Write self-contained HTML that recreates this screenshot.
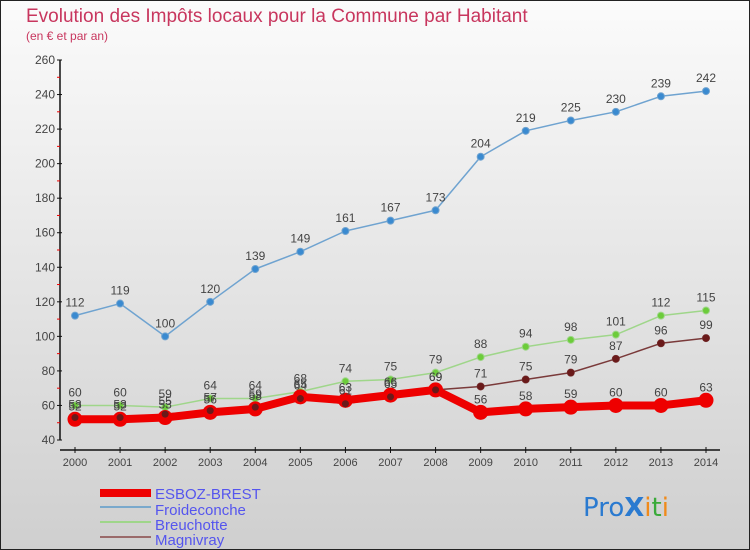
<!DOCTYPE html>
<html><head><meta charset="utf-8"><style>
body{margin:0;width:750px;height:550px;overflow:hidden;font-family:"Liberation Sans",sans-serif}
svg{display:block}
</style></head><body>
<svg id="chart" width="750" height="550" xmlns="http://www.w3.org/2000/svg">
<defs><linearGradient id="bg" x1="0" y1="0" x2="0" y2="1"><stop offset="0" stop-color="#fbfbfb"/><stop offset="1" stop-color="#cfcfcf"/></linearGradient></defs>
<rect x="0.5" y="0.5" width="749" height="549" fill="url(#bg)" stroke="#222"/>
<text x="26" y="22" font-size="19" fill="#c8365e" style="font-weight:300">Evolution des Impôts locaux pour la Commune par Habitant</text>
<text x="26" y="40" font-size="12" fill="#c8365e">(en € et par an)</text>
<g id="axes"></g><g id="series"></g><g id="labels"></g>
<g>
<rect x="100" y="489" width="51" height="8" fill="#e00"/>
<text x="155" y="499" font-size="15" fill="#5555ee">ESBOZ-BREST</text>
<line x1="100" y1="507" x2="151" y2="507" stroke="#7aa9cc" stroke-width="2"/>
<text x="155" y="515" font-size="15" fill="#5555ee">Froideconche</text>
<line x1="100" y1="522" x2="151" y2="522" stroke="#9fd68a" stroke-width="2"/>
<text x="155" y="530" font-size="15" fill="#5555ee">Breuchotte</text>
<line x1="100" y1="537" x2="151" y2="537" stroke="#9a6a6a" stroke-width="2"/>
<text x="155" y="545" font-size="15" fill="#5555ee">Magnivray</text>
</g>
<g font-size="26" font-family="'DejaVu Sans',sans-serif">
<text x="583" y="516"><tspan fill="#2a7ad0">Pro</tspan><tspan fill="#2a7ad0" font-weight="bold">X</tspan><tspan fill="#f08a1a">i</tspan><tspan fill="#3aaa3a">t</tspan><tspan fill="#f08a1a">i</tspan></text>
</g>
</svg>
<script>
const years=[2000,2001,2002,2003,2004,2005,2006,2007,2008,2009,2010,2011,2012,2013,2014];
const yTicks=[40,60,80,100,120,140,160,180,200,220,240,260];
const esboz=[52,52,53,56,58,65,63,66,69,56,58,59,60,60,63];
const froideconche=[112,119,100,120,139,149,161,167,173,204,219,225,230,239,242];
const breuchotte=[60,60,59,64,64,68,74,75,79,88,94,98,101,112,115];
const magnivray=[53,53,55,57,59,64,61,65,69,71,75,79,87,96,99];
const NS="http://www.w3.org/2000/svg";
const X=i=>75+i*(706-75)/14;
const Y=v=>440-(v-40)*(380/220);
function mk(t,a,p){const e=document.createElementNS(NS,t);for(const k in a)e.setAttribute(k,a[k]);p.appendChild(e);return e;}
const ax=document.getElementById('axes'),sg=document.getElementById('series'),lg=document.getElementById('labels');
const yl=mk('line',{x1:60,y1:Y(260),x2:60,y2:Y(40),stroke:'#111','stroke-width':1.5},ax);


yTicks.forEach((t,i)=>{mk('line',{x1:57,y1:Y(t),x2:62,y2:Y(t),stroke:'#111'},ax);
 if(i<yTicks.length-1)mk('line',{x1:57,y1:Y(t+10),x2:60,y2:Y(t+10),stroke:'#e00'},ax);
 const tx=mk('text',{x:55,y:Y(t)+4,'text-anchor':'end','font-size':12,fill:'#444'},ax);tx.textContent=t;
 
 });
const xl=mk('line',{x1:60,y1:450,x2:720,y2:450,stroke:'#111','stroke-width':1.5},ax);


years.forEach((yr,i)=>{mk('line',{x1:X(i),y1:447,x2:X(i),y2:453,stroke:'#111'},ax);
 const tx=mk('text',{x:X(i),y:466,'text-anchor':'middle','font-size':11,fill:'#444'},ax);tx.textContent=yr;
 
 });
function series(d,col,w,r,dot,name,lab){
 const p=mk('polyline',{points:d.map((v,i)=>X(i)+','+Y(v)).join(' '),fill:'none',stroke:col,'stroke-width':w,'stroke-linejoin':'round'},sg);
 
 
 d.forEach((v,i)=>{const c=mk('circle',{cx:X(i),cy:Y(v),r:r,fill:dot,stroke:col,'stroke-width':1},sg);
  
  
  if(lab){const t=mk('text',{x:X(i),y:Y(v)-9,'text-anchor':'middle','font-size':12,fill:'#444'},lg);t.textContent=v;
  
  }});
}
series(breuchotte,'#9fd68a',1.5,3.5,'#6ccc3a','breuchotte',true);
series(froideconche,'#6fa3d0',1.5,3.5,'#3a8ad0','froideconche',true);
series(magnivray,'#7a3a3a',1.5,3.5,'#6a1a1a','magnivray',true);
series(esboz,'#e00',8,7,'#e00','esboz',true);
magnivray.forEach((v,i)=>{const c=mk('circle',{cx:X(i),cy:Y(v),r:3.5,fill:'#6a1a1a'},sg);});
</script>
</body></html>
